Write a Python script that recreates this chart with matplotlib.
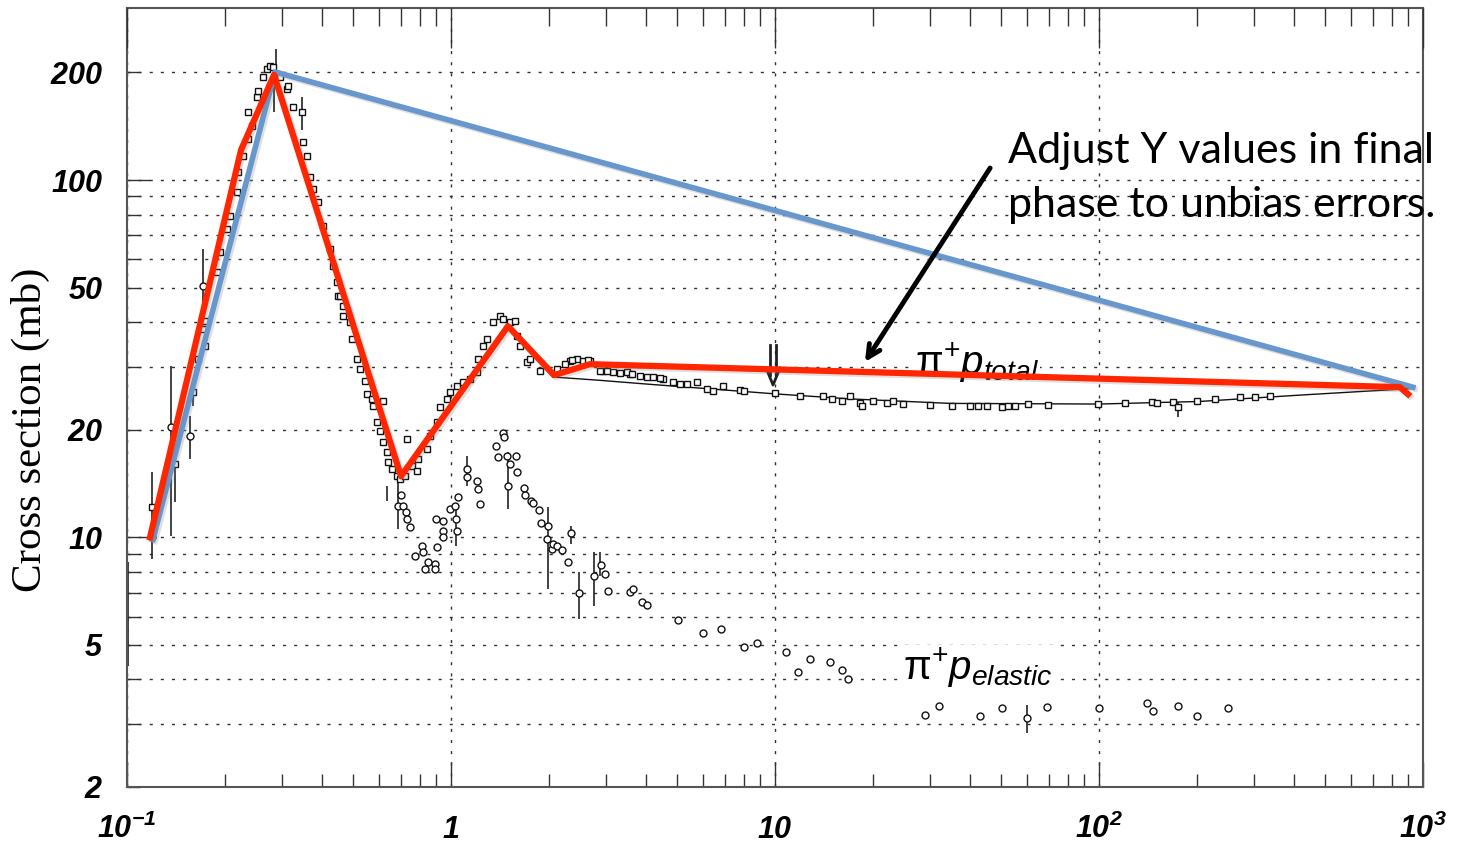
import matplotlib
matplotlib.use("Agg")
import matplotlib.pyplot as plt
import matplotlib.patheffects as pe
from matplotlib.ticker import FixedLocator, FixedFormatter, NullFormatter
from matplotlib.transforms import blended_transform_factory

plt.rcParams["mathtext.fontset"] = "custom"
plt.rcParams["mathtext.rm"] = "Liberation Sans"
plt.rcParams["mathtext.it"] = "Liberation Sans:italic"
plt.rcParams["mathtext.bf"] = "Liberation Sans:bold:italic"

# pi+ p total cross section (mb) vs momentum (GeV/c)
total_x = [0.1195, 0.1406, 0.1599, 0.1656, 0.1716, 0.1740, 0.1740, 0.1896, 0.1936, 0.2035,
           0.2079, 0.2185, 0.2201, 0.2280, 0.2363, 0.2431, 0.2363, 0.2519, 0.2537, 0.2629,
           0.2704, 0.2763, 0.2822, 0.2904, 0.2967, 0.3118, 0.3140, 0.3253, 0.3468, 0.3493,
           0.3594, 0.3671, 0.3751, 0.3886, 0.4026, 0.4230, 0.4322, 0.4446, 0.4478, 0.4542,
           0.4642, 0.4642, 0.4879, 0.4948, 0.5128, 0.5238, 0.5428, 0.5505, 0.5705, 0.5746,
           0.6168, 0.5911, 0.6039, 0.6168, 0.6346, 0.6392, 0.6576, 0.6813, 0.6961, 0.7211,
           0.7314, 0.7581, 0.7853, 0.7908, 0.8431, 0.8614, 0.9053, 0.9248, 0.9720, 0.9929,
           1.043, 1.089, 1.144, 1.203, 1.211, 1.255, 1.292, 1.348, 1.416, 1.447,
           1.521, 1.576, 1.599, 1.633, 1.717, 1.754, 1.883, 2.124, 2.330, 2.448,
           2.685, 2.945, 3.162, 3.568, 4.026, 4.512, 5.090, 5.744, 6.168, 6.437,
           6.911, 7.798, 10.0, 11.95, 14.07, 15.00, 16.10, 17.04, 18.30, 18.56,
           20.07, 22.17, 23.13, 24.84, 30.09, 35.18, 39.99, 42.32, 45.11, 50.19,
           52.38, 55.05, 60.39, 69.60, 99.3, 120.3, 145.7, 151.0, 169.2, 175.3,
           200.7, 228.0, 272.4, 303.1, 337.2,
           2.248, 2.363, 2.555, 2.647, 2.880, 3.030, 3.323, 3.493, 3.619, 3.831,
           4.203, 4.417, 4.843, 5.350, 8.023]
total_y = [12.13, 16.02, 25.47, 31.52, 38.24, 34.28, 40.27, 55.24, 62.84, 72.89,
           79.29, 92.55, 105.3, 116.7, 130.3, 141.6, 155.0, 170.8, 177.5, 194.4,
           204.7, 208.6, 207.3, 198.2, 194.4, 179.8, 183.4, 160.1, 155.0, 127.8,
           116.7, 101.9, 94.36, 86.77, 74.31, 64.07, 57.42, 51.80, 47.32, 47.32,
           44.37, 41.59, 40.01, 35.86, 31.52, 29.56, 27.35, 25.15, 24.35, 23.27,
           24.04, 20.99, 19.81, 18.46, 17.31, 16.23, 15.51, 14.82, 14.54, 14.82,
           18.82, 15.81, 15.31, 16.54, 17.65, 19.18, 20.99, 23.12, 24.35, 25.47,
           26.48, 27.17, 27.70, 28.99, 31.52, 34.28, 35.86, 40.01, 41.59, 40.80,
           40.01, 40.27, 36.56, 34.28, 30.92, 31.52, 29.17, 29.56, 31.12, 31.52,
           31.12, 29.17, 28.99, 28.62, 28.06, 27.70, 26.83, 27.17, 25.97, 25.64,
           26.48, 25.80, 25.31, 24.83, 24.83, 24.35, 24.04, 24.83, 23.73, 23.27,
           24.04, 23.73, 24.04, 23.58, 23.43, 23.27, 23.27, 23.27, 23.27, 23.12,
           23.27, 23.27, 23.58, 23.43, 23.58, 23.73, 23.89, 23.73, 23.89, 23.12,
           24.04, 24.35, 24.67, 24.67, 24.83,
           30.52, 31.32, 31.12, 31.32, 29.17, 29.17, 28.80, 28.99, 28.62, 28.25,
           28.06, 27.88, 27.17, 26.83, 25.64]

# pi+ p elastic cross section (mb)
elastic_x = [0.1195, 0.1367, 0.1565, 0.1716, 0.6862, 0.7009, 0.7110, 0.7263, 0.7314, 0.7474,
             0.7740, 0.8139, 0.8197, 0.8316, 0.8493, 0.8925, 0.8925, 0.9053, 0.8989, 0.9447,
             0.9447, 0.9447, 0.9929, 1.029, 1.036, 1.051, 1.043, 1.121, 1.121, 1.203,
             1.211, 1.229, 1.377, 1.397, 1.447, 1.458, 1.489, 1.499, 1.521, 1.587,
             1.599, 1.680, 1.692, 1.766, 1.791, 1.869, 1.896, 1.993, 1.979, 2.050,
             2.060, 2.124, 2.201, 2.297, 2.346, 2.484, 2.763, 2.904, 2.988, 3.052,
             3.568, 3.645, 3.886, 4.026, 5.019, 5.994, 6.813, 8.023, 8.800, 10.81,
             11.78, 12.82, 14.79, 16.10, 16.80, 29.04, 32.07, 42.93, 50.19, 59.94,
             69.11, 100.0, 140.7, 146.8, 175.3, 200.7, 250.1]
elastic_y = [10.0, 20.33, 19.18, 50.48, 12.21, 13.11, 12.21, 11.75, 11.23, 10.67,
             8.85, 9.44, 9.08, 8.14, 8.51, 8.40, 8.14, 9.38, 11.23, 11.09,
             10.39, 10.0, 11.98, 12.21, 11.23, 12.94, 10.39, 15.51, 14.73, 14.35,
             13.63, 12.37, 17.99, 16.76, 19.56, 19.06, 16.87, 13.90, 16.02, 16.87,
             15.21, 13.72, 13.11, 12.61, 12.45, 11.90, 10.94, 10.73, 9.87, 9.26,
             9.56, 9.44, 9.20, 8.51, 10.26, 6.97, 7.78, 8.35, 7.88, 7.06,
             7.01, 7.15, 6.58, 6.45, 5.85, 5.38, 5.52, 4.92, 5.05, 4.76,
             4.21, 4.55, 4.47, 4.24, 4.00, 3.19, 3.38, 3.17, 3.32, 3.13,
             3.36, 3.32, 3.43, 3.26, 3.38, 3.17, 3.32]

# visible error bars: momentum, lower and upper edge (mb)
err_x = [0.1005, 0.1195, 0.1195, 0.1367, 0.1406, 0.1565, 0.1599, 0.1716, 0.2880, 0.2850,
         0.3468, 0.6346, 0.6862, 1.036, 1.121, 1.499, 1.993, 2.346, 2.484, 2.763,
         2.880, 59.94, 175.3]
err_lo = [4.35, 10.33, 8.68, 10.06, 12.53, 16.54, 23.27, 40.80, 201.0, 155.0,
          138.0, 13.90, 10.53, 9.44, 13.90, 11.98, 7.15, 9.56, 5.89, 6.41,
          7.78, 2.84, 21.68]
err_hi = [8.51, 15.21, 10.87, 30.13, 17.31, 21.82, 25.97, 64.07, 232.0, 186.0,
          171.0, 12.60, 14.26, 11.98, 16.87, 17.31, 12.13, 10.73, 7.98, 9.08,
          9.08, 3.40, 23.89]

# smooth fit through the total cross section above 2 GeV/c
fit_x = [2.06, 2.88, 4.11, 5.87, 10.0, 17.0, 34.7, 100.0, 205.0, 417.0, 931.0]
fit_y = [28.1, 27.5, 26.8, 26.15, 25.2, 24.4, 23.7, 23.6, 24.0, 25.0, 26.1]

# piecewise approximations
red_x = [0.1178, 0.2249, 0.2843, 0.7009, 1.499, 2.079, 2.685, 849.0, 899.0]
red_y = [10.0, 121.4, 196.9, 14.82, 38.99, 28.43, 30.52, 26.31, 25.15]
blue_x = [0.1203, 0.2863, 931.0]
blue_y = [9.87, 200.7, 26.31]

xtick_vals = [0.1, 1, 10, 100, 1000]
xtick_text = [r"$\mathbf{10^{-1}}$", r"$\mathbf{1}$", r"$\mathbf{10}$",
              r"$\mathbf{10^{2}}$", r"$\mathbf{10^{3}}$"]
xminor_vals = [k * 10.0 ** d for d in (-1, 0, 1, 2) for k in range(2, 10)]
ymajor_vals = [10, 100]
yminor_vals = [2, 3, 4, 5, 6, 7, 8, 9, 20, 30, 40, 50, 60, 70, 80, 90, 200]
ylabelled = [2, 5, 20, 50, 200]

W, H = 1470, 842
fig = plt.figure(figsize=(W / 100, H / 100), dpi=100)
ax = fig.add_axes([127 / W, 55 / H, 1296 / W, 779 / H])
ax.set_xscale("log")
ax.set_yscale("log")
ax.set_xlim(0.1, 1000)
ax.set_ylim(2, 303)

ax.xaxis.set_major_locator(FixedLocator(xtick_vals))
ax.xaxis.set_minor_locator(FixedLocator(xminor_vals))
ax.xaxis.set_major_formatter(NullFormatter())
ax.xaxis.set_minor_formatter(NullFormatter())
ax.yaxis.set_major_locator(FixedLocator(ymajor_vals))
ax.yaxis.set_minor_locator(FixedLocator(yminor_vals))
ax.yaxis.set_major_formatter(FixedFormatter([r"$\mathbf{%d}$" % v for v in ymajor_vals]))
ax.yaxis.set_minor_formatter(FixedFormatter(
    [r"$\mathbf{%d}$" % v if v in ylabelled else "" for v in yminor_vals]))

grid_style = dict(color="#333333", lw=1.0, ls=(0, (2.2, 5.8)))
ax.yaxis.grid(True, which="both", **grid_style)
ax.xaxis.grid(True, which="major", **grid_style)
ax.set_axisbelow(True)

ax.tick_params(axis="both", which="both", direction="in", top=False, right=False,
               color="#333333", width=1.0, labelsize=22)
ax.tick_params(axis="x", which="major", length=18)
ax.tick_params(axis="x", which="minor", length=9.5)
ax.tick_params(axis="y", which="major", length=16.5, pad=17)
ax.tick_params(axis="y", which="minor", length=9.5, pad=17)
for sp in ax.spines.values():
    sp.set_color("#555555")
    sp.set_linewidth(1.5)

# longer ticks hanging from the top edge
axt = ax.twiny()
axt.set_xscale("log")
axt.set_xlim(ax.get_xlim())
axt.xaxis.set_major_locator(FixedLocator(xtick_vals))
axt.xaxis.set_minor_locator(FixedLocator(xminor_vals))
axt.xaxis.set_major_formatter(NullFormatter())
axt.xaxis.set_minor_formatter(NullFormatter())
axt.tick_params(axis="x", which="both", direction="in", color="#333333", width=1.0)
axt.tick_params(axis="x", which="major", length=29)
axt.tick_params(axis="x", which="minor", length=13)
for sp in axt.spines.values():
    sp.set_visible(False)

xt = blended_transform_factory(ax.transData, fig.transFigure)
for xv, lab in zip(xtick_vals, xtick_text):
    ax.text(xv, 1 - 838 / H, lab, transform=xt, ha="center", va="baseline",
            fontsize=22, clip_on=False)

fig.text(30 / W, 1 - 430 / H, "Cross section (mb)", rotation=90, ha="center",
         va="center", fontfamily="Liberation Serif", fontsize=31)

# data
ax.vlines(err_x, err_lo, err_hi, color="#222222", lw=1.2, zorder=2)
ax.plot(fit_x, fit_y, color="#111111", lw=1.0, zorder=2)
ax.plot(total_x, total_y, ls="none", marker="s", ms=5, mfc="white", mec="#111111",
        mew=1.0, zorder=3)
ax.plot(elastic_x, elastic_y, ls="none", marker="o", ms=5, mfc="white", mec="#111111",
        mew=1.0, zorder=3)

shadow = [pe.SimpleLineShadow(offset=(1.5, -1.5), alpha=0.25, shadow_color="gray"),
          pe.Normal()]
ax.plot(blue_x, blue_y, color="#6797cc", lw=4.0, zorder=5, path_effects=shadow)
ax.plot(red_x, red_y, color="#ff2600", lw=4.5, zorder=6, path_effects=shadow)

# curve labels
label_box = dict(facecolor="white", edgecolor="none", pad=1)
ax.text(0.608, 0.529, r"$\mathrm{\pi}^{+}\mathit{p}_{\mathit{total}}$",
        transform=ax.transAxes, fontsize=29, va="baseline", zorder=4, bbox=label_box)
ax.text(0.599, 0.137, r"$\mathrm{\pi}^{+}\mathit{p}_{\mathit{elastic}}$",
        transform=ax.transAxes, fontsize=29, va="baseline", zorder=4, bbox=label_box)

# double down-arrow marker at 10 GeV/c
for xf in (0.4958, 0.5011):
    ax.plot([xf, xf], [0.5674, 0.5289], transform=ax.transAxes, color="#222222",
            lw=2.0, zorder=4)
ax.plot([0.4931, 0.4985, 0.5039], [0.5379, 0.516, 0.5379], transform=ax.transAxes,
        color="#222222", lw=2.0, zorder=4)

# note with arrow
fig.text(1008 / W, 1 - 163 / H, "Adjust Y values in final", fontfamily="Lato",
         fontsize=31, va="baseline")
fig.text(1008 / W, 1 - 217 / H, "phase to unbias errors.", fontfamily="Lato",
         fontsize=31, va="baseline")
ax.annotate("", xy=(0.5694, 0.5456), xytext=(0.666, 0.7946), xycoords="axes fraction",
            arrowprops=dict(arrowstyle="->,head_length=0.9,head_width=0.45", lw=3.5,
                            color="black", shrinkA=0, shrinkB=0), zorder=7)

fig.savefig("out.png", dpi=100)
